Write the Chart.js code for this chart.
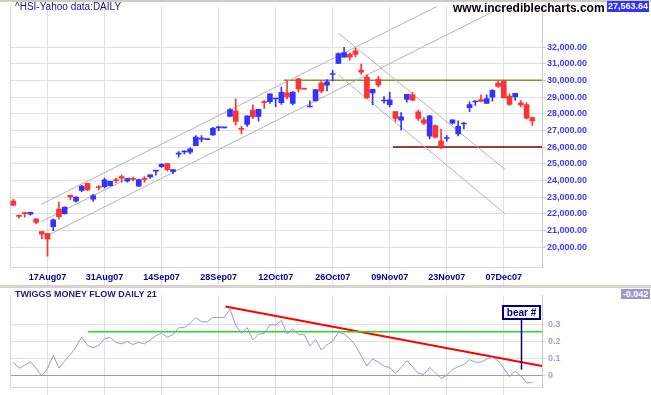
<!DOCTYPE html>
<html>
<head>
<meta charset="utf-8">
<title>HSI daily</title>
<script src="https://cdn.jsdelivr.net/npm/chart.js@4.4.1/dist/chart.umd.min.js"></script>
<style>
  html, body { margin: 0; padding: 0; background: #fff; }
  #wrap { position: relative; width: 651px; height: 395px; overflow: hidden; background: #fff; font-family: "Liberation Sans", Arial, sans-serif; }
  canvas { position: absolute; left: 0; }
  #priceChart { top: 0; }
  #tmfChart { top: 288px; }
  .txt { position: absolute; white-space: nowrap; line-height: 1; }
  #topEdge { position: absolute; left: 0; top: 0; width: 651px; height: 2px; background: #cfcbc3; }
  #split { position: absolute; left: 0; top: 285px; width: 651px; height: 3px; background: #d8d4cc; }
  #title { left: 15px; top: 2px; font-size: 10px; color: #14148c; }
  #site { left: 453px; top: 2px; font-size: 12px; font-weight: bold; color: #000; }
  #lastPrice { left: 607px; top: 1px; width: 42px; height: 11px; line-height: 11px; background: #3333ff; color: #fff; font-size: 9px; font-weight: bold; text-align: center; }
  #tmfTitle { left: 15px; top: 290px; font-size: 9px; font-weight: bold; color: #1c1c8c; }
  #lastTmf { left: 621px; top: 289px; width: 29px; height: 10px; line-height: 10px; background: #9999cc; color: #fff; font-size: 9px; font-weight: bold; text-align: center; }
</style>
</head>
<body>
<div id="wrap">
  <canvas id="priceChart" width="651" height="287"></canvas>
  <canvas id="tmfChart" width="651" height="107"></canvas>
  <div id="topEdge"></div>
  <div id="split"></div>
  <div class="txt" id="title">^HSI-Yahoo data:DAILY</div>
  <div class="txt" id="site">www.incrediblecharts.com</div>
  <div class="txt" id="lastPrice"></div>
  <div class="txt" id="tmfTitle">TWIGGS MONEY FLOW DAILY 21</div>
  <div class="txt" id="lastTmf"></div>
</div>
<script>
// bar numbers that get a date label, and the labels
const tickBars = [6, 16, 26, 36, 46, 56, 66, 76, 86];
const tickLabels = ["17Aug07", "31Aug07", "14Sep07", "28Sep07", "12Oct07", "26Oct07", "09Nov07", "23Nov07", "07Dec07"];
const priceTicks = [20000, 21000, 22000, 23000, 24000, 25000, 26000, 27000, 28000, 29000, 30000, 31000, 32000];
const tmfTicks = [0, 0.1, 0.2, 0.3];

// daily OHLC, 9 Aug 2007 .. 14 Dec 2007
const opens = [22755, 21870, 22020, 21970, 21693, 20925, 20807, 21222, 22283, 22006,
    23109, 22755, 23404, 23817, 22873, 23600, 23622, 23681, 24010, 24230,
    23953, 24090, 23657, 24090, 24212, 24550, 24820, 25014, 24525, 25570,
    25700, 25687, 26076, 26470, 26440, 26726, 27150, 27150, 27829, 28165,
    27100, 27356, 28224, 27829, 28690, 28714, 28880, 28655, 29245, 28613,
    30088, 29490, 28401, 28773, 29835, 29717, 30350, 31015, 31386, 31563,
    31764, 30619, 30189, 29245, 30071, 28760, 28537, 28124, 27610, 28850,
    29127, 28106, 27634, 26649, 27280, 26354, 26510, 27433, 26785, 27380,
    28360, 28700, 28850, 28613, 28991, 29835, 29935, 29050, 29009, 28655,
    28554, 27770];
const highs = [22855, 21929, 22088, 22100, 21710, 20940, 20820, 21693, 22696, 22401,
    23120, 23008, 23680, 23835, 23168, 23680, 24130, 23950, 24130, 24330,
    24112, 24190, 24070, 24230, 24330, 24566, 25014, 25020, 24643, 25722,
    25780, 25958, 26690, 26690, 26460, 27180, 27256, 27165, 28301, 28891,
    27238, 27870, 28537, 28280, 28790, 29186, 28910, 29599, 29953, 29320,
    30100, 29490, 28773, 29440, 29971, 30053, 30602, 31650, 31976, 31646,
    31917, 30973, 30324, 29463, 30248, 29026, 29304, 28140, 28065, 29168,
    29260, 28224, 27770, 27905, 27339, 27079, 26690, 27634, 27575, 27475,
    28714, 28790, 29127, 29127, 29440, 29953, 30012, 29186, 29227, 28790,
    28655, 27800];
const lows = [22460, 21734, 21793, 21911, 21380, 20495, 19451, 20985, 21693, 21970,
    22831, 22696, 23327, 23386, 22755, 23422, 23539, 23650, 23858, 23893,
    23893, 23960, 23640, 23876, 24112, 24306, 24779, 24566, 24406, 25392,
    25587, 25587, 26076, 26300, 26440, 26700, 26985, 27150, 27829, 27315,
    26785, 27238, 27711, 27551, 28318, 28613, 28419, 28554, 28891, 28537,
    29286, 29470, 28401, 28760, 29245, 29363, 29971, 31000, 31386, 31209,
    31410, 30366, 28909, 28537, 29599, 28637, 28401, 27533, 27020, 28696,
    28780, 27593, 27339, 26489, 26531, 25899, 26354, 27374, 26667, 27079,
    28124, 28495, 28732, 28613, 28755, 29581, 28950, 28495, 28790, 28419,
    27692, 27298];
const closes = [22519, 21840, 22000, 22088, 21474, 20766, 20471, 21634, 21829, 22401,
    23008, 22991, 23657, 23422, 23091, 23570, 24035, 23935, 23980, 24130,
    24112, 24060, 24053, 24060, 24330, 24566, 24955, 24643, 24643, 25600,
    25722, 25899, 26590, 26500, 26460, 27121, 27170, 27165, 28242, 27533,
    27060, 27870, 27811, 28260, 28660, 29186, 28900, 29286, 29009, 29304,
    29481, 29470, 28410, 29440, 29345, 29912, 30380, 31605, 31664, 31386,
    31563, 30484, 28950, 29463, 29717, 28790, 28832, 27711, 27811, 29168,
    28814, 27711, 27433, 27870, 26590, 26041, 26550, 27634, 27238, 27410,
    28554, 28730, 28732, 28909, 29404, 29640, 28950, 28554, 29227, 28519,
    27728, 27563.64];

// Twiggs Money Flow (21)
const tmf = [0.077, 0.041, 0.059, 0.080, 0.041, -0.004, 0.041, 0.118, 0.041, 0.082,
    0.121, 0.166, 0.225, 0.175, 0.161, 0.175, 0.214, 0.223, 0.193, 0.184,
    0.198, 0.180, 0.193, 0.184, 0.207, 0.232, 0.246, 0.223, 0.238, 0.279,
    0.279, 0.304, 0.339, 0.313, 0.313, 0.339, 0.339, 0.339, 0.389, 0.291,
    0.246, 0.279, 0.207, 0.241, 0.246, 0.296, 0.295, 0.321, 0.243, 0.273,
    0.238, 0.238, 0.171, 0.211, 0.148, 0.179, 0.198, 0.252, 0.241, 0.214,
    0.175, 0.113, 0.054, 0.095, 0.077, 0.054, 0.045, 0.011, 0.046, 0.086,
    0.050, 0.011, 0.005, 0.046, 0.014, -0.018, 0.000, 0.032, 0.050, 0.063,
    0.091, 0.077, 0.077, 0.095, 0.104, 0.086, 0.041, -0.007, 0.023, -0.004,
    -0.045, -0.042];

// drawn trend lines, [bar, value] end points
const channelTop = [[4.86, 22560], [80, 35410]];
const channelMid = [[4.86, 21516], [20.5, 24190]];
const channelLow = [[4.86, 20495], [92.7, 35600]];
const downTop = [[57.02, 32826], [86.26, 24643]];
const downLow = [[57.02, 30324], [86.26, 21988]];
const resistance = [[47.4, 30000], [92.7, 30000]];
const support = [[66.56, 26000], [92.7, 26000]];
const tmfTrend = [[37.19, 0.403], [92.7, 0.054]];
const tmfLevel = [[13.1, 0.255], [92.7, 0.255]];
const bearMark = { bar: 89.07, from: 0.033, to: 0.327, label: "bear #" };

const xMin = -0.58, xMax = 92.7;
const FONT = "Liberation Sans";
Chart.defaults.font.family = FONT;

const seg = pts => pts.map(([x, y]) => ({ x: x, y: y }));
const lineDs = (pts, color, width) => ({
    type: "line",
    data: seg(pts),
    borderColor: color,
    borderWidth: width,
    pointRadius: 0,
    fill: false,
    order: 5,
});

const barColors = closes.map((c, i) => c >= opens[i] ? "#3333ff" : "#ff3333");
const bodies = opens.map((o, i) => ({ x: i, y: [o, closes[i]] }));
const wicks = lows.map((l, i) => ({ x: i, y: [l, highs[i]] }));

// light left edge of each plot box
const leftEdge = {
    id: "leftEdge",
    beforeDatasetsDraw(chart) {
        const { ctx, chartArea } = chart;
        ctx.save();
        ctx.strokeStyle = "#d6d6d6";
        ctx.lineWidth = 1;
        ctx.beginPath();
        ctx.moveTo(Math.round(chartArea.left) + 0.5, chartArea.top);
        ctx.lineTo(Math.round(chartArea.left) + 0.5, chartArea.bottom);
        ctx.stroke();
        ctx.restore();
    },
};

const xScale = (showLabels, tickLen, height) => ({
    type: "linear",
    min: xMin,
    max: xMax,
    offset: false,
    afterBuildTicks: s => { s.ticks = tickBars.map(v => ({ value: v })); },
    afterFit: s => { s.height = height; },
    grid: { color: "#e0e0e0", tickLength: tickLen, tickColor: "#e0e0e0", offset: false },
    border: { color: "#d6d6d6" },
    ticks: {
        display: showLabels,
        autoSkip: false,
        maxRotation: 0,
        padding: -14,
        color: "#00008b",
        font: { family: FONT, size: 9, weight: "bold" },
        callback: (v, i) => tickLabels[i],
    },
});

new Chart(document.getElementById("priceChart"), {
    type: "bar",
    data: {
        datasets: [
            { data: bodies, backgroundColor: barColors, barThickness: 5, minBarLength: 1, grouped: false, order: 0 },
            { data: wicks, backgroundColor: barColors, barThickness: 1, grouped: false, order: 1 },
            lineDs(channelTop, "#b4b4b4", 1),
            lineDs(channelMid, "#b4b4b4", 1),
            lineDs(channelLow, "#b4b4b4", 1),
            lineDs(downTop, "#b4b4b4", 1),
            lineDs(downLow, "#b4b4b4", 1),
            lineDs(resistance, "#8c8c3c", 1.5),
            lineDs(support, "#800000", 1.5),
        ],
    },
    options: {
        responsive: false,
        animation: false,
        layout: { padding: { left: 10, top: 2, right: 0, bottom: 0 } },
        plugins: { legend: { display: false }, tooltip: { enabled: false } },
        scales: {
            x: xScale(true, 19, 20),
            y: {
                position: "right",
                min: 18802,
                max: 34437,
                afterBuildTicks: s => { s.ticks = priceTicks.map(v => ({ value: v })); },
                afterFit: s => { s.width = 109; },
                grid: { color: "#e0e0e0", tickLength: 4, tickColor: "#c8c8c8" },
                border: { color: "#c8c8c8" },
                ticks: {
                    padding: 1,
                    color: "#3c3cf0",
                    font: { family: FONT, size: 9, weight: "bold" },
                    callback: v => v.toLocaleString("en-US", { minimumFractionDigits: 2, maximumFractionDigits: 2 }),
                },
            },
        },
    },
    plugins: [leftEdge],
});

const bearPlugin = {
    id: "bear",
    afterDatasetsDraw(chart) {
        const { ctx } = chart;
        const x = chart.scales.x, y = chart.scales.y;
        const px = Math.round(x.getPixelForValue(bearMark.bar)) + 0.5;
        const y0 = y.getPixelForValue(bearMark.from);
        const y1 = y.getPixelForValue(bearMark.to);
        ctx.save();
        ctx.strokeStyle = "#000080";
        ctx.lineWidth = 1.5;
        ctx.beginPath();
        ctx.moveTo(px, y0);
        ctx.lineTo(px, y1);
        ctx.stroke();
        ctx.font = "bold 10px " + FONT;
        const w = Math.round(ctx.measureText(bearMark.label).width) + 8, h = 13;
        const bx = Math.round(px - w / 2), by = Math.round(y1 - h);
        ctx.fillStyle = "#fff";
        ctx.fillRect(bx, by, w, h);
        ctx.lineWidth = 2;
        ctx.strokeRect(bx, by, w, h);
        ctx.fillStyle = "#000080";
        ctx.textAlign = "center";
        ctx.textBaseline = "middle";
        ctx.fillText(bearMark.label, px, by + h / 2 + 0.5);
        ctx.restore();
    },
};

new Chart(document.getElementById("tmfChart"), {
    type: "line",
    data: {
        datasets: [
            { data: tmf.map((v, i) => ({ x: i, y: v })), borderColor: "#9a9acd", borderWidth: 1, pointRadius: 0, fill: false, order: 0 },
            lineDs(tmfLevel, "#22dd22", 1.5),
            lineDs(tmfTrend, "#ff0000", 2),
        ],
    },
    options: {
        responsive: false,
        animation: false,
        layout: { padding: { left: 10, top: 0, right: 0, bottom: 0 } },
        plugins: { legend: { display: false }, tooltip: { enabled: false } },
        scales: {
            x: xScale(false, 8, 8),
            y: {
                position: "right",
                min: -0.0689,
                max: 0.4683,
                afterBuildTicks: s => { s.ticks = tmfTicks.map(v => ({ value: v })); },
                afterFit: s => { s.width = 109; },
                grid: {
                    color: c => c.tick && c.tick.value === 0 ? "#9999cc" : "#e0e0e0",
                    tickLength: 4,
                    tickColor: "#e0e0e0",
                },
                border: { color: "#c8c8c8" },
                ticks: {
                    padding: 2,
                    color: "#a4a4d4",
                    font: { family: FONT, size: 9, weight: "bold" },
                    callback: v => String(v),
                },
            },
        },
    },
    plugins: [leftEdge, bearPlugin],
});

document.getElementById("lastPrice").textContent =
    closes[closes.length - 1].toLocaleString("en-US", { minimumFractionDigits: 2, maximumFractionDigits: 2 });
document.getElementById("lastTmf").textContent = tmf[tmf.length - 1].toFixed(3);
</script>
</body>
</html>
